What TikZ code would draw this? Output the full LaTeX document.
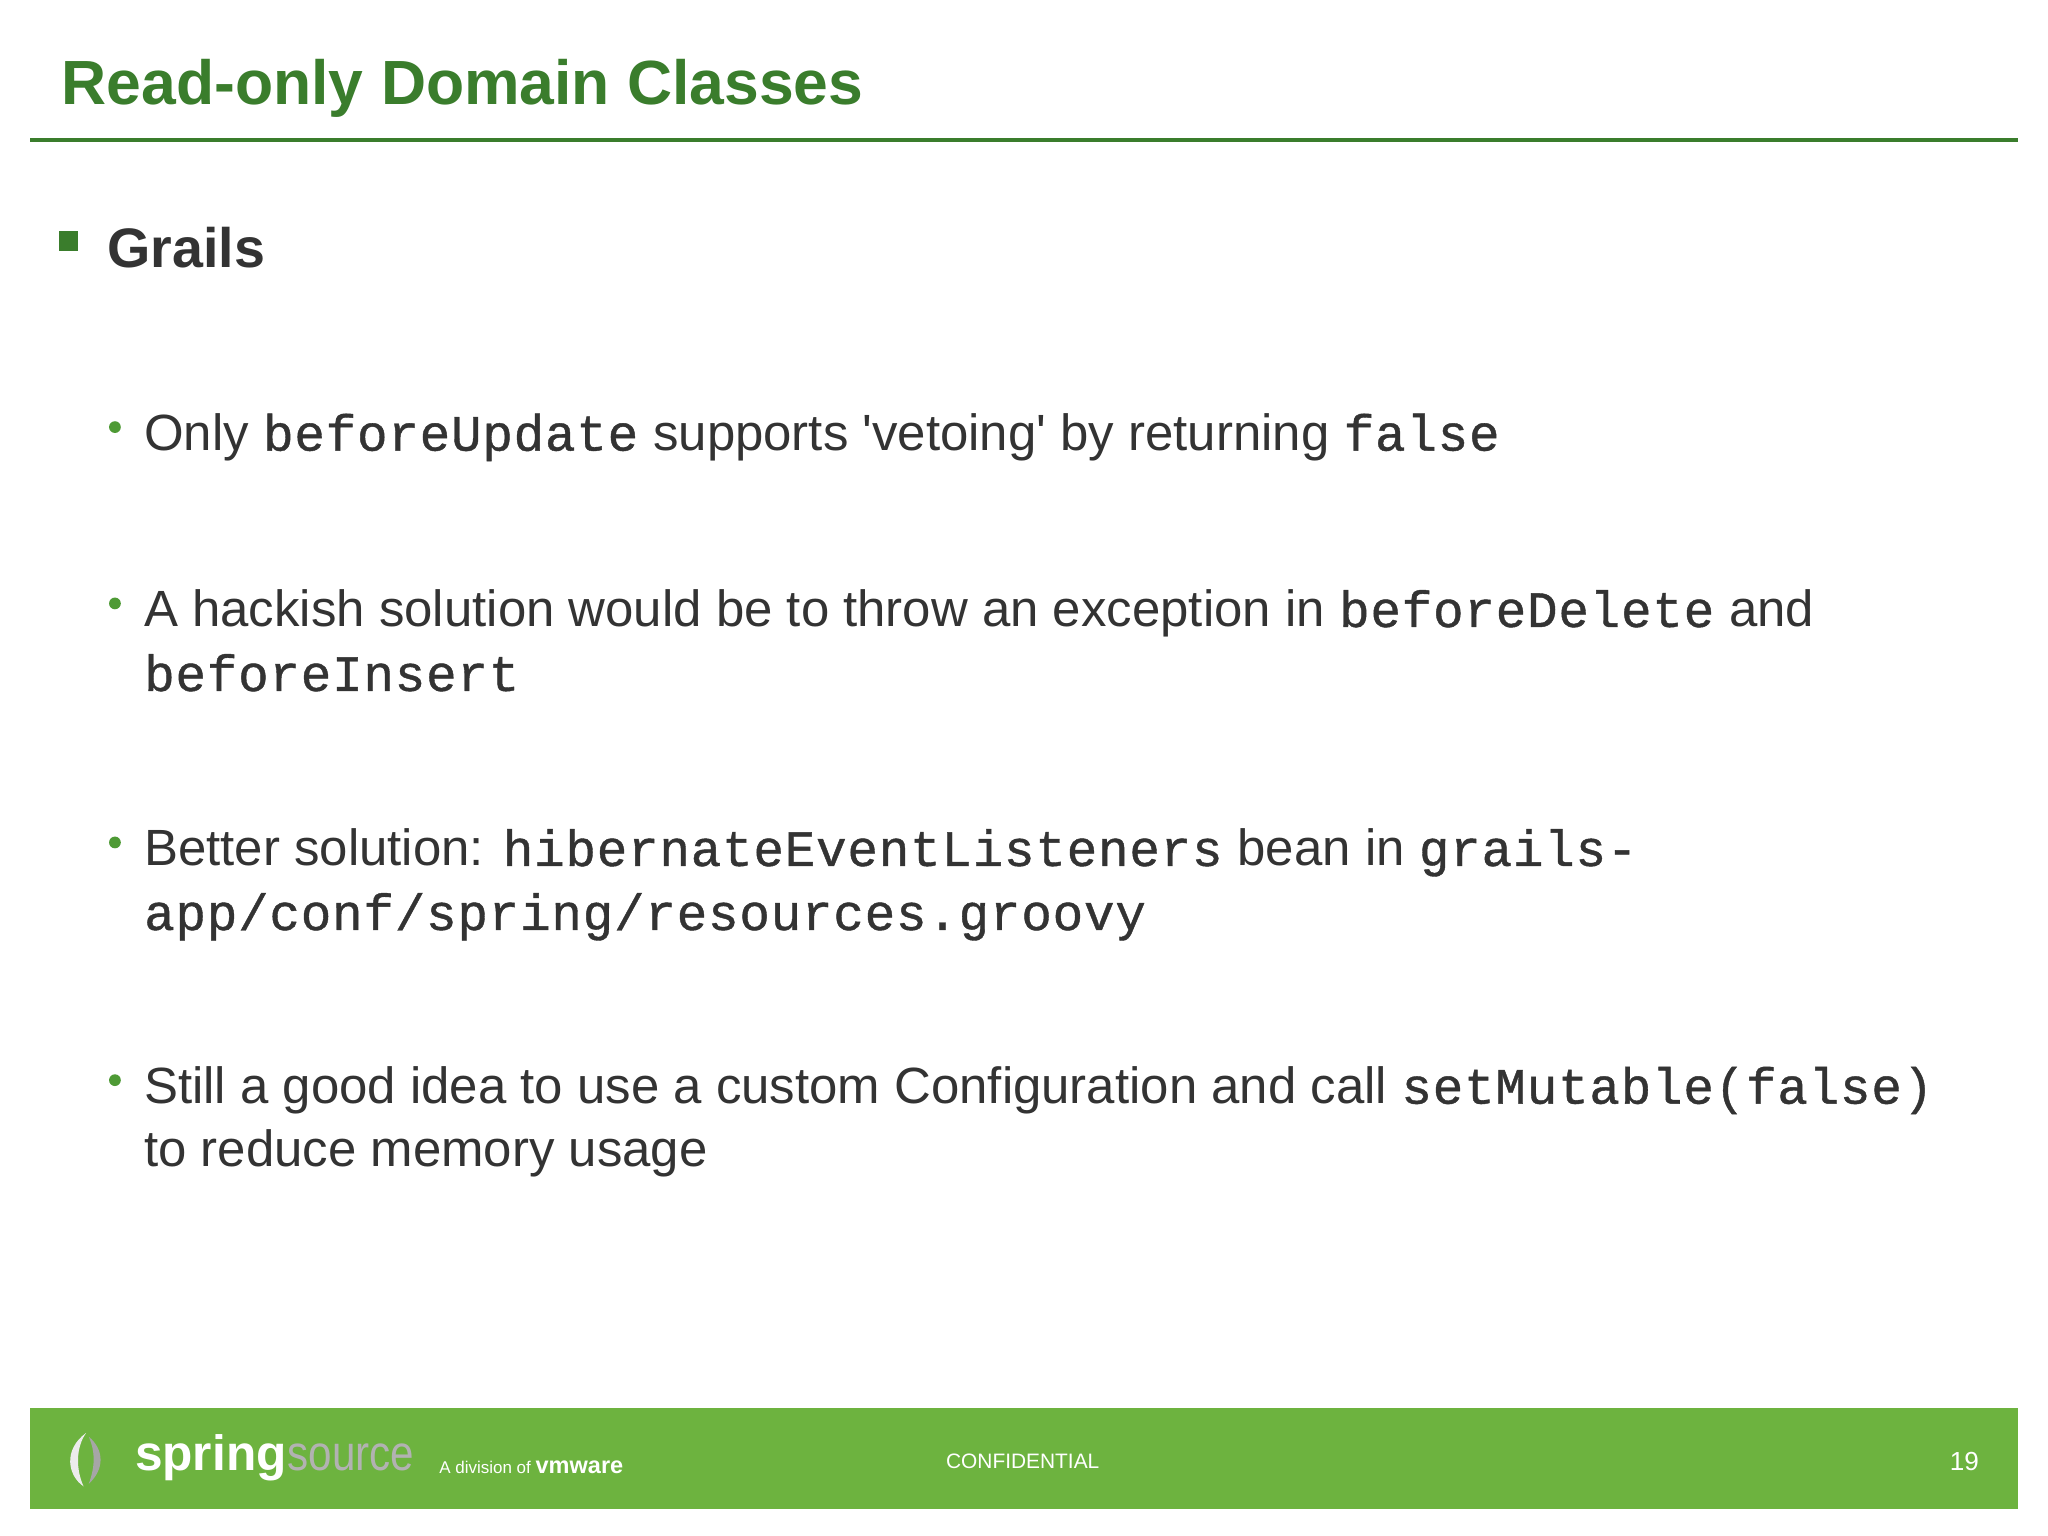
\documentclass[tikz,border=0pt]{standalone}
\usepackage{fontspec}
\setmainfont{Liberation Sans}
\setmonofont[LetterSpace=1.5,FakeBold=0.8]{Liberation Mono}
\definecolor{tgreen}{HTML}{3A7D2C}
\definecolor{fgreen}{HTML}{6DB33F}
\definecolor{dgreen}{HTML}{4E9A35}
\definecolor{txt}{HTML}{333333}
\begin{document}
\begin{tikzpicture}[x=0.5pt,y=-0.5pt,
  body/.style={anchor=base west,inner sep=0,font=\fontsize{19.5}{24}\selectfont,text=txt},
  dot/.style={circle,fill=dgreen,inner sep=0,minimum size=4.5pt}]
\useasboundingbox (0,0) rectangle (1568,1176);
\fill[white] (0,0) rectangle (1568,1176);
\node[anchor=base west,inner sep=0,font=\fontsize{23.9}{28}\selectfont\bfseries,text=tgreen] (title) at (47,80) {Read-only Domain Classes};
\draw[tgreen,line width=1.5pt] (23,107) -- (1545,107);
\fill[tgreen] (45,177) rectangle (60,192);
\node[body,font=\fontsize{21.3}{24}\selectfont\bfseries] (grails) at (82,205) {Grails};
\node[dot] (d1) at (88,327) {};
\node[body] (l1) at (110,345) {Only \texttt{beforeUpdate} supports \textquotesingle vetoing\textquotesingle{} by returning \texttt{false}};
\node[dot] (d2) at (88,462) {};
\node[body] (l2a) at (110,480) {A hackish solution would be to throw an exception in \texttt{beforeDelete} and};
\node[body] (l2b) at (110,529) {\texttt{beforeInsert}};
\node[dot] (d3) at (88,645) {};
\node[body] (l3a) at (110,663) {Better solution: \texttt{hibernateEventListeners} bean in \texttt{grails-}};
\node[body] (l3b) at (110,712) {\texttt{app/conf/spring/resources.groovy}};
\node[dot] (d4) at (88,827) {};
\node[body] (l4a) at (110,845) {Still a good idea to use a custom Configuration and call \texttt{setMutable(false)}};
\node[body] (l4b) at (110,893) {to reduce memory usage};
\fill[fgreen] (23,1078) rectangle (1545,1155);
\fill[white!85!gray] (66,1097) .. controls (48,1110) and (52,1130) .. (64,1138) .. controls (58,1125) and (58,1108) .. (66,1097);
\fill[gray!70] (68,1100) .. controls (80,1110) and (80,1125) .. (68,1136) .. controls (73,1122) and (73,1112) .. (68,1100);
\node[anchor=base west,inner sep=0,font=\fontsize{19}{20}\selectfont\bfseries,text=white] (spring) at (103,1126) {spring};
\node[anchor=base west,inner sep=0,font=\fontsize{19}{20}\selectfont,text=gray!60,xscale=0.85] (source) at (spring.base east) {source};
\node[anchor=base west,inner sep=0,font=\fontsize{6.5}{7}\selectfont,text=white] (div) at (336,1128) {A division of \textbf{\fontsize{9}{9}\selectfont vmware}};
\node[anchor=center,inner sep=0,font=\fontsize{8}{9}\selectfont,text=white] (conf) at (783,1119) {CONFIDENTIAL};
\node[anchor=center,inner sep=0,font=\fontsize{10}{11}\selectfont,text=white] (num) at (1504,1119) {19};
\end{tikzpicture}
\end{document}
